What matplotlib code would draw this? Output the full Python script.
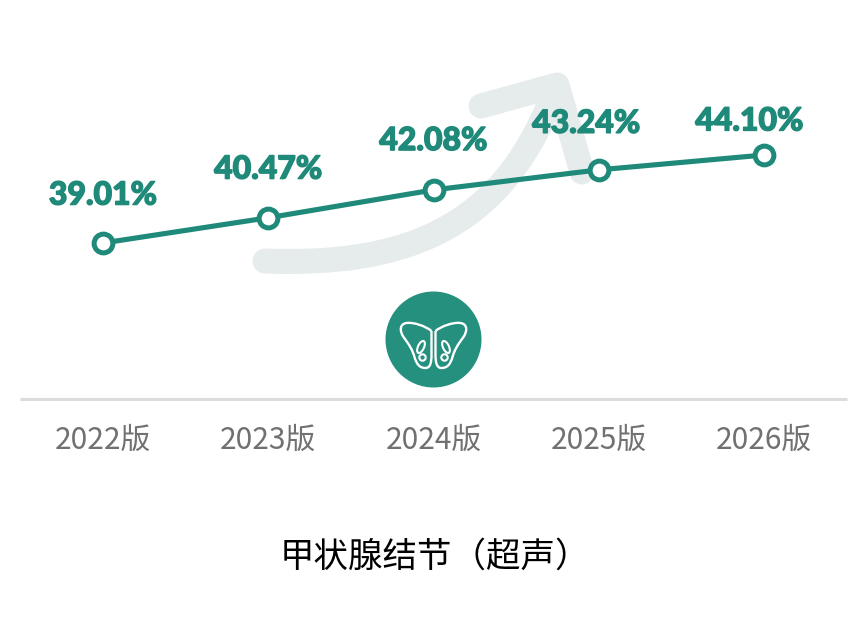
import matplotlib
matplotlib.use("Agg")
import matplotlib.pyplot as plt
import matplotlib.patheffects as pe
from matplotlib.patches import Circle, Ellipse, PathPatch
from matplotlib.path import Path

years = ["2022版", "2023版", "2024版", "2025版", "2026版"]
rates = [39.01, 40.47, 42.08, 43.24, 44.10]
title = "甲状腺结节（超声）"

GREEN = "#1f8a79"
BADGE = "#26907f"
ARROW = "#e6ecec"
W, H = 861, 636
CJK = ["Noto Sans CJK SC", "DejaVu Sans"]


def wing(sign, cx=433.5):
    # one wing of the badge icon, pixel coords
    def p(dx, y):
        return (cx + sign * dx, y)

    verts = [
        p(2, 331),
        p(8, 326), p(20, 322), p(27, 323),
        p(34, 324), p(34, 331), p(30, 337),
        p(24, 345), p(21, 350), p(19, 357),
        p(17, 364), p(14, 368), p(8, 368),
        p(3, 368), p(2, 362), p(2, 355),
        p(2, 345), p(2, 338), p(2, 331),
    ]
    codes = [Path.MOVETO] + [Path.CURVE4] * 18
    return Path(verts, codes)


def main():
    fig = plt.figure(figsize=(W / 100, H / 100), dpi=100, facecolor="white")

    # pixel layer for the decoration behind the chart
    deco = fig.add_axes([0, 0, 1, 1])
    deco.set_xlim(0, W)
    deco.set_ylim(H, 0)
    deco.axis("off")

    shaft = Path(
        [(265, 261), (400, 266), (500, 232), (552, 97)],
        [Path.MOVETO, Path.CURVE4, Path.CURVE4, Path.CURVE4],
    )
    deco.add_patch(PathPatch(shaft, fc="none", ec=ARROW, lw=18, capstyle="round"))
    head = Path(
        [(481, 106), (557, 85), (582, 172)],
        [Path.MOVETO, Path.LINETO, Path.LINETO],
    )
    deco.add_patch(PathPatch(head, fc="none", ec=ARROW, lw=18, capstyle="round", joinstyle="round"))

    deco.add_patch(Circle((433.5, 339.5), 48, fc=BADGE, ec="none"))
    for sign in (-1, 1):
        deco.add_patch(PathPatch(wing(sign), fc="none", ec="white", lw=1.7))
        deco.add_patch(Ellipse((433.5 + sign * 12.5, 347), 6, 13, angle=-sign * 25, fc="none", ec="white", lw=1.5))
        deco.add_patch(Circle((433.5 + sign * 11, 357.5), 3.2, fc="none", ec="white", lw=1.5))

    # chart axes: bottom spine is the baseline at y=399px
    ax = fig.add_axes([20 / W, (H - 399) / H, 827 / W, 399 / H])
    ax.patch.set_alpha(0)
    step = 165.25
    px_per_unit = 17.29
    ax.set_xlim((20 - 103) / step, (847 - 103) / step)
    ax.set_ylim(39.01 - (399 - 243) / px_per_unit, 39.01 + 243 / px_per_unit)

    xs = list(range(len(years)))
    ax.plot(
        xs, rates, color=GREEN, lw=3.7, marker="o", ms=13.5, mew=3.6,
        mfc="white", mec=GREEN, solid_capstyle="round",
    )

    offsets = [(0, 34.5), (0, 35), (0, 35.5), (-9, 33.5), (-10.5, 24.5)]
    for x, v, (dx, dy) in zip(xs, rates, offsets):
        ax.annotate(
            f"{v:.2f}%", (x, v), xytext=(dx, dy), textcoords="offset points",
            ha="center", va="center", color=GREEN, fontsize=23,
            family="Lato", fontweight="black",
            path_effects=[pe.withStroke(linewidth=1.0, foreground=GREEN)],
        )

    for s in ("top", "left", "right"):
        ax.spines[s].set_visible(False)
    ax.spines["bottom"].set_color("#dcdcdc")
    ax.spines["bottom"].set_linewidth(2.2)
    ax.spines["bottom"].set_capstyle("butt")
    ax.set_yticks([])
    ax.set_xticks(xs)
    ax.set_xticklabels(years, family=CJK, fontsize=21.5, color="#717171", fontweight="light")
    ax.tick_params(axis="x", length=0, pad=18.5)

    fig.text(435 / W, 1 - 557 / H, title, ha="center", va="center", family=CJK, fontsize=24.8, color="black")

    fig.savefig("out.png", dpi=100)


if __name__ == "__main__":
    main()
